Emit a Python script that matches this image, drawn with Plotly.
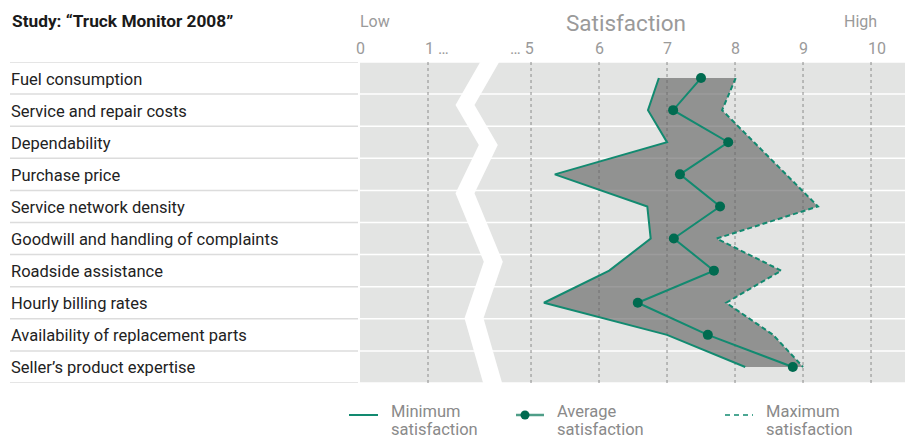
import plotly.graph_objects as go

categories = [
    "Fuel consumption",
    "Service and repair costs",
    "Dependability",
    "Purchase price",
    "Service network density",
    "Goodwill and handling of complaints",
    "Roadside assistance",
    "Hourly billing rates",
    "Availability of replacement parts",
    "Seller\u2019s product expertise",
]
min_sat = [6.88, 6.72, 7.00, 5.35, 6.71, 6.76, 6.15, 5.19, 7.00, 8.15]
avg_sat = [7.50, 7.09, 7.90, 7.19, 7.78, 7.10, 7.69, 6.57, 7.60, 8.85]
max_sat = [8.01, 7.81, 8.28, 8.75, 9.22, 7.73, 8.68, 7.87, 8.56, 9.00]

tick_vals = [0, 1, 5, 6, 7, 8, 9, 10]
tick_text = ["0", "1 \u2026", "\u2026 5", "6", "7", "8", "9", "10"]

FONT = "Roboto, 'Liberation Sans', Arial, sans-serif"
TEAL = "#128a70"
DARK = "#006b50"
GREY_TXT = "#9a9a9a"

# broken axis: 1..5 compressed
BREAK_SHIFT = 2.485


def tx(v):
    return v if v <= 1 else v - BREAK_SHIFT


# plot area in pixels
L, R, T, B = 360, 905, 62, 383
W, H = 910, 439
PXU = 68.0
XMAX = (R - L) / PXU


def xp(px):
    return (px - L) / (R - L)


def yp(py):
    return (B - py) / (B - T)


rows = list(range(len(categories)))
fig = go.Figure()

# zigzag break band (decoration) in axis units
zz_px = [(489.7, 62), (465, 105), (488.3, 145), (465, 193.3), (493.3, 261.7), (474, 318.3), (492.7, 383.3)]
half = 9.5
left = [((x - half - L) / PXU, (y - 78) / 32.1) for x, y in zz_px]
right = [((x + half - L) / PXU, (y - 78) / 32.1) for x, y in zz_px]
poly = left + right[::-1]
fig.add_trace(go.Scatter(
    x=[p[0] for p in poly] + [poly[0][0]], y=[p[1] for p in poly] + [poly[0][1]],
    mode="lines", fill="toself", fillcolor="white", line=dict(width=0, color="white"),
    hoverinfo="skip", showlegend=False,
))

# range polygon
px_poly = [tx(v) for v in min_sat] + [tx(v) for v in max_sat[::-1]]
py_poly = rows + rows[::-1]
fig.add_trace(go.Scatter(
    x=px_poly + [px_poly[0]], y=py_poly + [py_poly[0]],
    mode="lines", fill="toself", fillcolor="rgba(95,95,95,0.62)",
    line=dict(width=0), hoverinfo="skip", showlegend=False,
))

fig.add_trace(go.Scatter(
    x=[tx(v) for v in min_sat], y=rows, mode="lines",
    line=dict(color=TEAL, width=2), showlegend=False,
))
fig.add_trace(go.Scatter(
    x=[tx(v) for v in max_sat], y=rows, mode="lines",
    line=dict(color=TEAL, width=2, dash="5px,3px"), showlegend=False,
))
fig.add_trace(go.Scatter(
    x=[tx(v) for v in avg_sat], y=rows, mode="lines+markers",
    line=dict(color=TEAL, width=2), marker=dict(color=DARK, size=10),
    showlegend=False,
))

shapes = []
annotations = []
n = len(categories)
for i in range(n + 1):
    yb = i - 0.5
    shapes.append(dict(type="line", xref="paper", yref="y", x0=xp(10), x1=xp(358),
                       y0=yb, y1=yb, line=dict(color="#dcdcdc", width=1.5)))
    shapes.append(dict(type="line", xref="paper", yref="y", x0=0, x1=1,
                       y0=yb, y1=yb, line=dict(color="white", width=1.5), layer="below"))

for v in tick_vals[1:]:
    shapes.append(dict(type="line", xref="x", yref="paper", x0=tx(v), x1=tx(v), y0=0, y1=1,
                       line=dict(color="#8c8c8c", width=1, dash="dot"), layer="between"))

for i, c in enumerate(categories):
    annotations.append(dict(text=c, xref="paper", yref="y", x=xp(9), y=i, yshift=-1,
                            xanchor="left", yanchor="middle", showarrow=False,
                            font=dict(family=FONT, size=16.5, color="#222222")))

for v, t in zip(tick_vals, tick_text):
    if t.startswith("1"):
        xa, sh = "left", -5
    elif t.startswith("\u2026"):
        xa, sh = "right", 5
    else:
        xa, sh = "center", 0
    annotations.append(dict(text=t, xref="x", yref="paper", x=tx(v), y=yp(48),
                            xanchor=xa, xshift=sh, yanchor="middle", showarrow=False,
                            font=dict(family=FONT, size=16, color=GREY_TXT)))

annotations.append(dict(text="<b>Study: \u201cTruck Monitor 2008\u201d</b>", xref="paper", yref="paper",
                        x=xp(10), y=yp(21), xanchor="left", yanchor="middle", showarrow=False,
                        font=dict(family=FONT, size=17.3, color="#1a1a1a")))
annotations.append(dict(text="Low", xref="paper", yref="paper", x=xp(375), y=yp(21),
                        xanchor="center", yanchor="middle", showarrow=False,
                        font=dict(family=FONT, size=16, color=GREY_TXT)))
annotations.append(dict(text="High", xref="paper", yref="paper", x=xp(860), y=yp(21),
                        xanchor="center", yanchor="middle", showarrow=False,
                        font=dict(family=FONT, size=16, color=GREY_TXT)))
annotations.append(dict(text="Satisfaction", xref="paper", yref="paper", x=xp(626), y=yp(23),
                        xanchor="center", yanchor="middle", showarrow=False,
                        font=dict(family=FONT, size=22.5, color=GREY_TXT)))

# custom legend
leg_y = 415
shapes.append(dict(type="line", xref="paper", yref="paper", x0=xp(349), x1=xp(378),
                   y0=yp(leg_y), y1=yp(leg_y), line=dict(color=TEAL, width=2)))
shapes.append(dict(type="line", xref="paper", yref="paper", x0=xp(516), x1=xp(544),
                   y0=yp(leg_y), y1=yp(leg_y), line=dict(color="#4f9e88", width=2.5)))
shapes.append(dict(type="circle", xref="paper", yref="paper", x0=xp(520.5), x1=xp(529.5),
                   y0=yp(leg_y + 4.5), y1=yp(leg_y - 4.5), fillcolor=DARK, line=dict(width=0)))
shapes.append(dict(type="line", xref="paper", yref="paper", x0=xp(725), x1=xp(753),
                   y0=yp(leg_y), y1=yp(leg_y), line=dict(color=TEAL, width=1.5, dash="5px,4px")))

for x0, t1 in [(389, "Minimum"), (555, "Average"), (764, "Maximum")]:
    annotations.append(dict(text=t1, xref="paper", yref="paper", x=xp(x0), y=yp(411),
                            xanchor="left", yanchor="middle", showarrow=False,
                            font=dict(family=FONT, size=16.5, color="#8a8a8a")))
    annotations.append(dict(text="satisfaction", xref="paper", yref="paper", x=xp(x0), y=yp(430),
                            xanchor="left", yanchor="middle", showarrow=False,
                            font=dict(family=FONT, size=16.5, color="#8a8a8a")))

fig.update_layout(
    width=W, height=H,
    margin=dict(l=L, r=W - R, t=T, b=H - B),
    paper_bgcolor="white", plot_bgcolor="#e3e4e3",
    shapes=shapes, annotations=annotations,
    xaxis=dict(range=[0, XMAX], showgrid=False, zeroline=False, showticklabels=False,
               ticks="", fixedrange=True),
    yaxis=dict(range=[n - 0.5, -0.5], showgrid=False, zeroline=False, showticklabels=False,
               ticks="", fixedrange=True),
    font=dict(family=FONT),
    showlegend=False,
)

fig.write_html("out.html")
